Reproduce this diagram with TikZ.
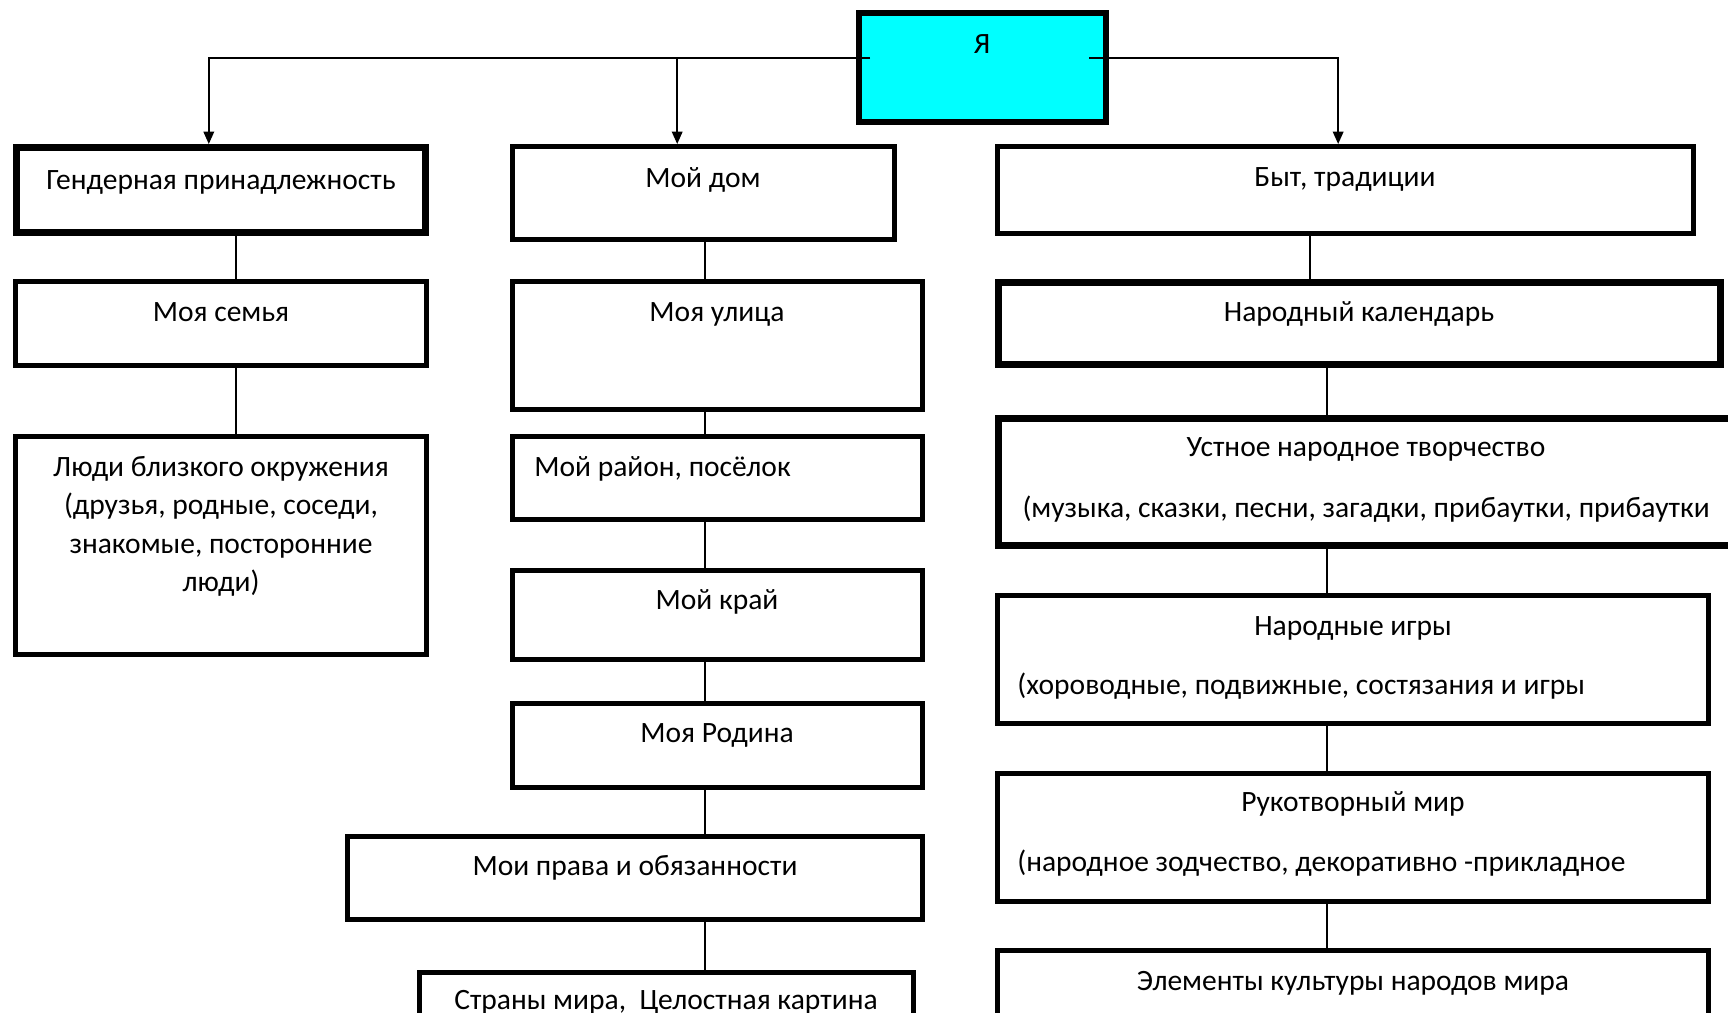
\documentclass[tikz,border=0pt]{standalone}
\usepackage{fontspec}
\setmainfont{Carlito}
\usepackage{tikz}
\usetikzlibrary{arrows.meta}
\definecolor{yacyan}{RGB}{0,255,255}

\begin{document}
\begin{tikzpicture}[x=0.02cm,y=-0.02cm,
  every node/.style={font=\fontsize{16.8}{21.8}\selectfont},
  box/.style={draw,line width=3.1pt,anchor=north west,inner sep=0pt},
  heavy/.style={box,line width=3.8pt},
  txt/.style={anchor=base,inner sep=0pt},
  txtl/.style={anchor=base west,inner sep=0pt},
  conn/.style={line width=0.9pt},
  arrow/.style={conn,-{Triangle[length=7pt,width=6pt]}}]
\clip (0,0) rectangle (1728,1012);
\fill[white] (0,0) rectangle (1728,1012);
\node[box,line width=3.4pt,fill=yacyan,minimum width=4.94cm,minimum height=2.18cm] (ya) at (856,10) {};
\node[txt] (yat) at (982,53) {Я};
\node[heavy,minimum width=8.18cm,minimum height=1.70cm] (gender) at (13,144) {};
\node[txt] (gendert) at (221,189) {Гендерная принадлежность};
\node[box,minimum width=8.22cm,minimum height=1.68cm] (family) at (13,279) {};
\node[txt] (familyt) at (221,321) {Моя семья};
\node[box,minimum width=8.22cm,minimum height=4.36cm] (people) at (13,434) {};
\node[anchor=north,align=center,inner sep=0pt] (peoplet) at (221,456) {Люди близкого окружения\\(друзья, родные, соседи,\\знакомые, посторонние\\люди)};
\node[box,minimum width=7.64cm,minimum height=1.86cm] (home) at (510,144) {};
\node[txt] (homet) at (703,187) {Мой дом};
\node[box,minimum width=8.2cm,minimum height=2.56cm] (street) at (510,279) {};
\node[txt] (streett) at (717,321) {Моя улица};
\node[box,minimum width=8.2cm,minimum height=1.66cm] (district) at (510,434) {};
\node[txtl] (districtt) at (534,476) {Мой район, посёлок};
\node[box,minimum width=8.2cm,minimum height=1.78cm] (region) at (510,568) {};
\node[txt] (regiont) at (717,609) {Мой край};
\node[box,minimum width=8.2cm,minimum height=1.68cm] (homeland) at (510,701) {};
\node[txt] (homelandt) at (717,742) {Моя Родина};
\node[box,minimum width=11.5cm,minimum height=1.66cm] (rights) at (345,834) {};
\node[txt] (rightst) at (635,875) {Мои права и обязанности};
\node[box,minimum width=9.88cm,minimum height=1.8cm] (countries) at (417,970) {};
\node[txt] (countriest) at (666,1009) {Страны мира,\ \ Целостная картина};
\node[box,minimum width=13.92cm,minimum height=1.74cm] (life) at (995,144) {};
\node[txt] (lifet) at (1345,186) {Быт, традиции};
\node[heavy,minimum width=14.44cm,minimum height=1.64cm] (calendar) at (995,279) {};
\node[txt] (calendart) at (1359,321) {Народный календарь};
\node[heavy,minimum width=14.7cm,minimum height=2.54cm] (oral) at (995,415) {};
\node[txt] (oralt) at (1366,456) {Устное народное творчество};
\node[txt] (oralu) at (1366,517) {(музыка, сказки, песни, загадки, прибаутки, прибаутки};
\node[box,minimum width=14.22cm,minimum height=2.56cm] (games) at (995,593) {};
\node[txt] (gamest) at (1353,635) {Народные игры};
\node[txtl] (gamesu) at (1017,694) {(хороводные, подвижные, состязания и игры};
\node[box,minimum width=14.22cm,minimum height=2.56cm] (crafts) at (995,771) {};
\node[txt] (craftst) at (1353,811) {Рукотворный мир};
\node[txtl] (craftsu) at (1017,871) {(народное зодчество, декоративно -прикладное};
\node[box,minimum width=14.22cm,minimum height=2.2cm] (culture) at (995,948) {};
\node[txt] (culturet) at (1353,990) {Элементы культуры народов мира};
\coordinate (yaL) at (870,58);
\coordinate (yaR) at (1089,58);
\coordinate (genderIn) at ([xshift=-0.24cm]gender.north);
\coordinate (homeIn) at ([xshift=-0.53cm]home.north);
\coordinate (lifeIn) at ([xshift=-0.15cm]life.north);
\coordinate (colL) at (236,0);
\coordinate (colM) at (705,0);
\coordinate (colB) at (1310,0);
\coordinate (colR) at (1327,0);
\draw[arrow] (yaL) -| (genderIn);
\draw[arrow] (homeIn |- yaL) -- (homeIn);
\draw[arrow] (yaR) -| (lifeIn);
\foreach \a/\b in {gender/family,family/people}
  \draw[conn] (\a.south -| colL) -- (\b.north -| colL);
\foreach \a/\b in {home/street,street/district,district/region,region/homeland,homeland/rights,rights/countries}
  \draw[conn] (\a.south -| colM) -- (\b.north -| colM);
\draw[conn] (life.south -| colB) -- (calendar.north -| colB);
\foreach \a/\b in {calendar/oral,oral/games,games/crafts,crafts/culture}
  \draw[conn] (\a.south -| colR) -- (\b.north -| colR);
\end{tikzpicture}
\end{document}
